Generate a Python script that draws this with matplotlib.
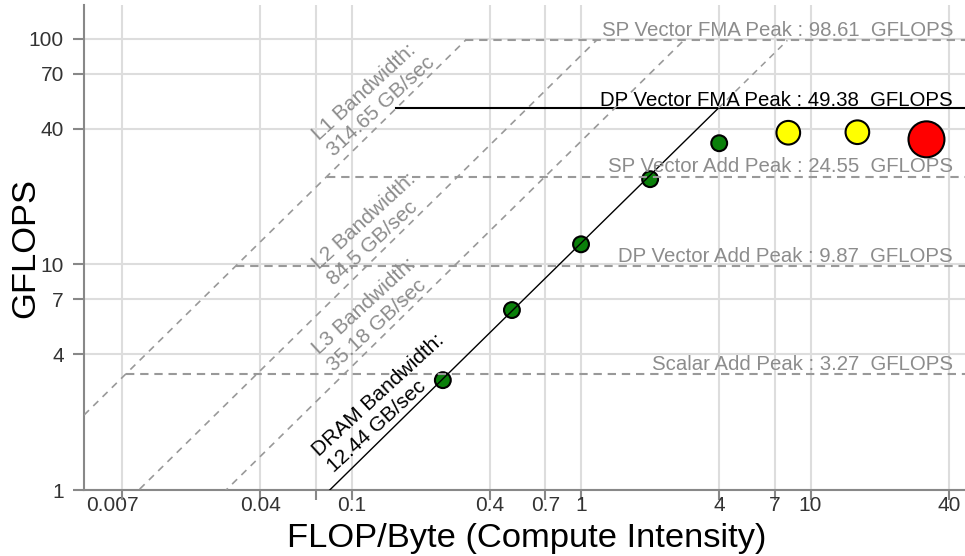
import numpy as np
import matplotlib.pyplot as plt

plt.rcParams['font.family'] = ['Liberation Sans', 'DejaVu Sans']

# compute roofs (GFLOPS) and memory roofs (GB/sec)
peak_names = ['SP Vector FMA Peak', 'DP Vector FMA Peak', 'SP Vector Add Peak',
              'DP Vector Add Peak', 'Scalar Add Peak']
peak_gflops = [98.61, 49.38, 24.55, 9.87, 3.27]
bw_names = ['L1 Bandwidth', 'L2 Bandwidth', 'L3 Bandwidth', 'DRAM Bandwidth']
bw_gbs = [314.65, 84.5, 35.18, 12.44]

# measured kernels
intensity = [0.25, 0.5, 1, 2, 4, 8, 16, 32]
gflops = [3.07, 6.28, 12.29, 23.9, 34.5, 38.4, 38.6, 35.9]
point_colors = ['#0a800a'] * 5 + ['#ffff00'] * 2 + ['#ff0000']
point_sizes = [130] * 5 + [290] * 2 + [670]

xtick_vals = [0.007, 0.01, 0.04, 0.07, 0.1, 0.4, 0.7, 1, 4, 7, 10, 40]
xtick_labels = ['0.007', '', '0.04', '', '0.1', '0.4', '0.7', '1', '4', '7', '10', '40']
ytick_vals = [1, 4, 7, 10, 40, 70, 100]

active_roof = 'DP Vector FMA Peak'
active_bw = 'DRAM Bandwidth'

GRAY = '#999999'
GRAY_TEXT = '#8c8c8c'
x_lo, x_hi = 0.00683, 47.1
y_lo, y_hi = 1, 141.5

fig = plt.figure(figsize=(9.65, 5.56), dpi=100)
ax = fig.add_axes([84 / 965, 66 / 556, 881 / 965, 485 / 556])
ax.set_xscale('log')
ax.set_yscale('log')
ax.set_xlim(x_lo, x_hi)
ax.set_ylim(y_lo, y_hi)

top_peak = max(peak_gflops)
l1_bw = max(bw_gbs)
active_peak = peak_gflops[peak_names.index(active_roof)]
label_trans = ax.get_yaxis_transform()

# horizontal compute roofs, starting where they meet the L1 roof
for name, p in zip(peak_names, peak_gflops):
    x0 = p / l1_bw
    if name == active_roof:
        ax.plot([x0, x_hi], [p, p], color='black', lw=1.5, zorder=3)
        color, dy = 'black', 1.5
    else:
        ax.plot([x0, x_hi], [p, p], color=GRAY, lw=1.5, ls=(0, (4, 2.8)), zorder=3)
        color, dy = GRAY_TEXT, 3
    ax.annotate(f'{name} : {p:g}  GFLOPS', xy=(0.9864, p), xycoords=label_trans,
                xytext=(0, dy), textcoords='offset points', ha='right', va='baseline',
                color=color, fontsize=14.7, zorder=4)

# diagonal memory roofs, labels start at the same intensity above each line
label_x = 0.0804
for name, bw in zip(bw_names, bw_gbs):
    x_top = top_peak / bw
    if name == active_bw:
        x_knee = active_peak / bw
        ax.plot([x_lo, x_knee], [bw * x_lo, bw * x_knee], color='black', lw=1.0, zorder=3)
        ax.plot([x_knee, x_top], [bw * x_knee, bw * x_top], color=GRAY, lw=1.1,
                ls=(0, (4.2, 3.6)), zorder=3)
        color = 'black'
    else:
        ax.plot([x_lo, x_top], [bw * x_lo, bw * x_top], color=GRAY, lw=1.2,
                ls=(0, (4.2, 3.6)), zorder=3)
        color = GRAY_TEXT
    ax.annotate(f'{name}:\n{bw:g} GB/sec', xy=(label_x, bw * label_x),
                xytext=(5, 9.8), textcoords='offset points', rotation=42.5,
                rotation_mode='anchor', ha='left', va='bottom',
                color=color, fontsize=15, zorder=4, annotation_clip=False)

ax.scatter(intensity, gflops, s=point_sizes, c=point_colors, edgecolors='black',
           linewidths=1.5, zorder=2.5)

# axes styling
ax.set_xticks(xtick_vals)
ax.set_xticklabels(xtick_labels)
ax.set_yticks(ytick_vals)
ax.set_yticklabels([f'{v:g}' for v in ytick_vals])
ax.minorticks_off()
ax.grid(True, which='major', color='#dddddd', lw=1.5)
ax.set_axisbelow(True)
for side in ['top', 'right']:
    ax.spines[side].set_visible(False)
for side in ['left', 'bottom']:
    ax.spines[side].set_color('#888888')
    ax.spines[side].set_linewidth(1.5)
ax.tick_params(axis='both', color='#888888', labelcolor='#333333', width=1.5, labelsize=15)
ax.tick_params(axis='y', length=8, pad=6.5)
ax.tick_params(axis='x', length=7.5, pad=-3.5)

first = ax.xaxis.get_major_ticks()[0]
first.tick1line.set_visible(False)
first.gridline.set_visible(False)
first.label1.set_horizontalalignment('left')

ax.set_xlabel('FLOP/Byte (Compute Intensity)', fontsize=24.8, va='baseline')
ax.xaxis.set_label_coords(0.5023, -0.1175)
ax.set_ylabel('GFLOPS', fontsize=24.8, va='center')
ax.yaxis.set_label_coords(-0.066, 0.5)

fig.savefig('out.png', dpi=100)
